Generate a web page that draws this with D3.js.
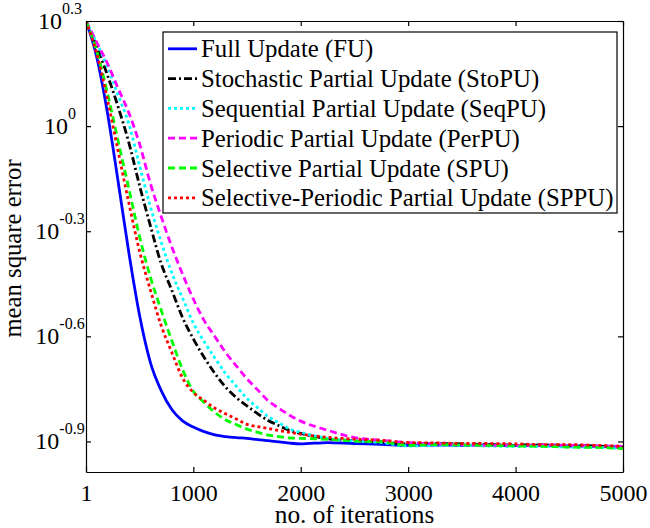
<!DOCTYPE html>
<html>
<head>
<meta charset="utf-8">
<script src="https://cdnjs.cloudflare.com/ajax/libs/d3/7.8.5/d3.min.js"></script>
<style>
  body { margin: 0; background: #fff; }
  svg { display: block; font-family: "Liberation Serif", "Times New Roman", serif; }
</style>
</head>
<body>
<svg id="chart" width="650" height="528"></svg>
<script>
// Learning curves (MSE vs iteration)

var iterations = [1, 100, 200, 300, 400, 500, 600, 700, 800, 900, 1000,
  1100, 1200, 1300, 1400, 1500, 1600, 1700, 1800, 1900, 2000,
  2250, 2500, 2750, 3000, 3250, 3500, 3750, 4000, 4250, 4500, 4750, 5000];

var fuMse = [1.995, 1.578, 1.094, 0.695, 0.435, 0.288, 0.2118, 0.1762, 0.1553, 0.1442, 0.1384,
  0.1343, 0.1315, 0.1300, 0.1291, 0.1285, 0.1274, 0.1265, 0.1256, 0.1245, 0.1239,
  0.1250, 0.1242, 0.1236, 0.1227, 0.1230, 0.1227, 0.1230, 0.1225, 0.1227, 0.1222, 0.1219, 0.1213];

var stoPuMse = [1.995, 1.687, 1.400, 1.135, 0.897, 0.676, 0.520, 0.406, 0.340, 0.284, 0.247,
  0.219, 0.197, 0.180, 0.168, 0.159, 0.151, 0.1442, 0.1396, 0.1352, 0.1327,
  0.1282, 0.1265, 0.1256, 0.1239, 0.1242, 0.1239, 0.1233, 0.1230, 0.1230, 0.1227, 0.1222, 0.1211];

var seqPuMse = [1.995, 1.726, 1.479, 1.225, 1.014, 0.771, 0.590, 0.468, 0.381, 0.323, 0.274,
  0.243, 0.218, 0.197, 0.181, 0.167, 0.157, 0.148, 0.1422, 0.1365, 0.1337,
  0.1285, 0.1262, 0.1250, 0.1222, 0.1227, 0.1227, 0.1222, 0.1219, 0.1219, 0.1213, 0.1211, 0.1202];

var perPuMse = [1.995, 1.738, 1.510, 1.282, 1.091, 0.889, 0.687, 0.553, 0.452, 0.378, 0.321,
  0.279, 0.251, 0.226, 0.207, 0.190, 0.1766, 0.1641, 0.1563, 0.1493, 0.1439,
  0.1355, 0.1291, 0.1268, 0.1250, 0.1239, 0.1233, 0.1227, 0.1227, 0.1230, 0.1227, 0.1222, 0.1219];

var spuMse = [1.995, 1.641, 1.245, 0.906, 0.664, 0.483, 0.371, 0.299, 0.244, 0.202, 0.175,
  0.1626, 0.1524, 0.1452, 0.1406, 0.1365, 0.1337, 0.1312, 0.1300, 0.1288, 0.1285,
  0.1276, 0.1262, 0.1256, 0.1227, 0.1233, 0.1230, 0.1227, 0.1222, 0.1219, 0.1213, 0.1211, 0.1202];

var sppuMse = [1.995, 1.614, 1.194, 0.847, 0.603, 0.439, 0.341, 0.270, 0.226, 0.191, 0.1738,
  0.1648, 0.1567, 0.1510, 0.1459, 0.1409, 0.1387, 0.1371, 0.1352, 0.1337, 0.1321,
  0.1294, 0.1279, 0.1268, 0.1250, 0.1247, 0.1242, 0.1242, 0.1239, 0.1233, 0.1233, 0.1227, 0.1219];

var seriesNames = [
  "Full Update (FU)",
  "Stochastic Partial Update (StoPU)",
  "Sequential Partial Update (SeqPU)",
  "Periodic Partial Update (PerPU)",
  "Selective Partial Update (SPU)",
  "Selective-Periodic Partial Update (SPPU)"
];
var seriesValues = [fuMse, stoPuMse, seqPuMse, perPuMse, spuMse, sppuMse];

var xTicks = [1, 1000, 2000, 3000, 4000, 5000];
var yTickExponents = ["0.3", "0", "-0.3", "-0.6", "-0.9"];
var yLimits = [0.103, 1.9953];

// line styles (matlab-ish: '-', '-.', ':', '--', '--', ':')
var lineStyles = [
  {color: "#0000ff", dash: null},
  {color: "#000000", dash: "8,3,2,3"},
  {color: "#00ffff", dash: "3,3"},
  {color: "#ff00ff", dash: "7,4"},
  {color: "#00ff00", dash: "7,4"},
  {color: "#ff0000", dash: "3,3"}
];

var margin = {left: 86, right: 27, top: 21, bottom: 56};
var width = 650 - margin.left - margin.right;
var height = 528 - margin.top - margin.bottom;

var svg = d3.select("#chart");
var g = svg.append("g")
  .attr("transform", "translate(" + margin.left + "," + margin.top + ")");

var x = d3.scaleLinear().domain([1, 5000]).range([0, width]);
var y = d3.scaleLog().domain(yLimits).range([height, 0]);

g.append("clipPath").attr("id", "plotClip")
  .append("rect").attr("width", width).attr("height", height);

/* curves */
var line = d3.line()
  .x(function(d) { return x(d[0]); })
  .y(function(d) { return y(d[1]); })
  .curve(d3.curveMonotoneX);

seriesValues.forEach(function(vals, i) {
  var pts = iterations.map(function(n, k) { return [n, vals[k]]; });
  g.append("path")
    .datum(pts)
    .attr("clip-path", "url(#plotClip)")
    .attr("d", line)
    .attr("fill", "none")
    .attr("stroke", lineStyles[i].color)
    .attr("stroke-width", 2.8)
    .attr("stroke-dasharray", lineStyles[i].dash);
});

/* box with inward ticks on all four sides */
function styleAxis(sel) {
  sel.attr("font-family", null).attr("font-size", null);
  sel.selectAll("path, line").attr("stroke", "#000").attr("stroke-width", 1.2);
  sel.selectAll("text").attr("fill", "#000").style("font-size", "24px");
}

g.append("g")
  .attr("transform", "translate(0," + height + ")")
  .call(d3.axisBottom(x).tickValues(xTicks).tickFormat(d3.format("d"))
    .tickSizeInner(-5).tickSizeOuter(0).tickPadding(12))
  .call(styleAxis);

g.append("g")
  .call(d3.axisTop(x).tickValues(xTicks).tickSizeInner(-5).tickSizeOuter(0).tickFormat(""))
  .call(styleAxis);

var yTickValues = yTickExponents.map(function(e) { return Math.pow(10, +e); });

g.append("g")
  .call(d3.axisLeft(y).tickValues(yTickValues).tickSizeInner(-5).tickSizeOuter(0).tickFormat(""))
  .call(styleAxis);

g.append("g")
  .attr("transform", "translate(" + width + ",0)")
  .call(d3.axisRight(y).tickValues(yTickValues).tickSizeInner(-5).tickSizeOuter(0).tickFormat(""))
  .call(styleAxis);

/* y tick labels as 10^e with a superscript */
var yLab = g.append("g").selectAll("text")
  .data(yTickExponents)
  .enter().append("text")
    .attr("x", -26)
    .attr("y", function(e) { return y(Math.pow(10, +e)) + 7.5; })
    .attr("text-anchor", "middle")
    .style("font-size", "24px");
yLab.append("tspan").text("10");
yLab.append("tspan")
  .attr("dy", -15)
  .style("font-size", "16px")
  .text(function(e) { return e; });

/* axis titles */
svg.append("text")
  .attr("x", margin.left + width / 2)
  .attr("y", 523)
  .attr("text-anchor", "middle")
  .style("font-size", "25.3px")
  .text("no. of iterations");

svg.append("text")
  .attr("transform", "translate(21," + (margin.top + height / 2 + 2) + ") rotate(-90)")
  .attr("text-anchor", "middle")
  .style("font-size", "24.7px")
  .text("mean square error");

/* legend */
var legend = g.append("g").attr("transform", "translate(77,11)");
legend.append("rect")
  .attr("width", 454)
  .attr("height", 181)
  .attr("fill", "#fff")
  .attr("stroke", "#000")
  .attr("stroke-width", 1.2);

var rows = legend.selectAll("g.row")
  .data(seriesNames)
  .enter().append("g")
    .attr("class", "row")
    .attr("transform", function(d, i) { return "translate(0," + (25.3 + i * 29.8) + ")"; });

rows.append("line")
  .attr("x1", 5).attr("x2", 34)
  .attr("y1", -8.5).attr("y2", -8.5)
  .attr("stroke", function(d, i) { return lineStyles[i].color; })
  .attr("stroke-width", 2.8)
  .attr("stroke-dasharray", function(d, i) { return lineStyles[i].dash; });

rows.append("text")
  .attr("x", 38)
  .style("font-size", "24.8px")
  .text(function(d) { return d; });
</script>
</body>
</html>
